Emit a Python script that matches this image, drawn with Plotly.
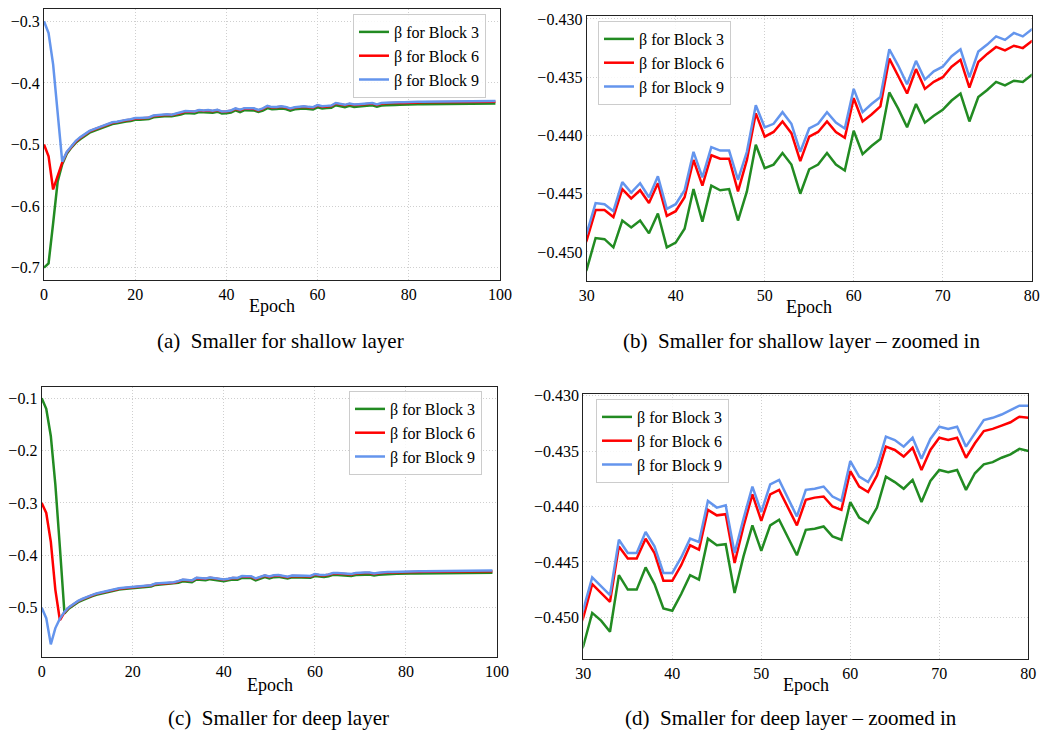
import plotly.graph_objects as go

# ---------------- data ----------------
epochs = list(range(100))

# Shallow-layer configuration (panels a, b)
shallow_block3 = [
    -0.700, -0.693, -0.628, -0.560, -0.532, -0.515, -0.505, -0.497, -0.491, -0.4857,
    -0.4807, -0.4777, -0.4747, -0.4717, -0.4697, -0.4667, -0.4657, -0.4637, -0.4627, -0.4617,
    -0.4597, -0.4597, -0.4587, -0.4587, -0.4557, -0.4547, -0.4537, -0.4537, -0.4542, -0.4531,
    -0.4515, -0.4488, -0.4489, -0.4496, -0.4473, -0.4479, -0.4473, -0.4484, -0.4467, -0.4496,
    -0.4492, -0.4480, -0.4446, -0.4474, -0.4443, -0.4447, -0.4446, -0.4473, -0.4448, -0.4408,
    -0.4428, -0.4425, -0.4415, -0.4425, -0.4450, -0.4429, -0.4425, -0.4415, -0.4425, -0.4430,
    -0.4396, -0.4416, -0.4409, -0.4403, -0.4363, -0.4377, -0.4393, -0.4373, -0.4389, -0.4383,
    -0.4378, -0.4370, -0.4364, -0.4388, -0.4367, -0.4361, -0.4354, -0.4357, -0.4353, -0.4354,
    -0.4348, -0.4347, -0.4346, -0.4345, -0.4345, -0.4343, -0.4342, -0.4341, -0.4341, -0.4340,
    -0.4339, -0.4338, -0.4338, -0.4337, -0.4336, -0.4336, -0.4335, -0.4335, -0.4334, -0.4334,
]
shallow_block6 = [
    -0.500, -0.519, -0.573, -0.550, -0.529, -0.513, -0.503, -0.495, -0.489, -0.4835,
    -0.4787, -0.4757, -0.4727, -0.4697, -0.4677, -0.4647, -0.4637, -0.4617, -0.4607, -0.4597,
    -0.4577, -0.4577, -0.4567, -0.4567, -0.4537, -0.4527, -0.4517, -0.4517, -0.4522, -0.4507,
    -0.4490, -0.4464, -0.4464, -0.4470, -0.4446, -0.4454, -0.4447, -0.4458, -0.4441, -0.4469,
    -0.4465, -0.4453, -0.4421, -0.4443, -0.4417, -0.4420, -0.4420, -0.4448, -0.4421, -0.4381,
    -0.4401, -0.4397, -0.4388, -0.4398, -0.4422, -0.4401, -0.4397, -0.4388, -0.4397, -0.4402,
    -0.4368, -0.4388, -0.4382, -0.4375, -0.4334, -0.4349, -0.4364, -0.4343, -0.4360, -0.4354,
    -0.4350, -0.4341, -0.4335, -0.4359, -0.4337, -0.4330, -0.4324, -0.4327, -0.4323, -0.4325,
    -0.4319, -0.4318, -0.4317, -0.4316, -0.4316, -0.4314, -0.4313, -0.4312, -0.4312, -0.4311,
    -0.4310, -0.4309, -0.4309, -0.4308, -0.4307, -0.4307, -0.4306, -0.4306, -0.4305, -0.4305,
]
shallow_block9 = [
    -0.300, -0.319, -0.370, -0.448, -0.528, -0.512, -0.502, -0.494, -0.488, -0.483,
    -0.478, -0.475, -0.472, -0.469, -0.467, -0.464, -0.463, -0.461, -0.460, -0.459,
    -0.457, -0.457, -0.456, -0.456, -0.453, -0.452, -0.451, -0.451, -0.4515, -0.450,
    -0.4484, -0.4458, -0.4459, -0.4465, -0.4440, -0.4449, -0.4441, -0.4453, -0.4435, -0.4463,
    -0.4459, -0.4447, -0.4414, -0.4436, -0.4410, -0.4413, -0.4413, -0.4438, -0.4414, -0.4374,
    -0.4393, -0.4390, -0.4380, -0.4390, -0.4414, -0.4394, -0.4390, -0.4380, -0.4389, -0.4394,
    -0.4360, -0.4380, -0.4373, -0.4367, -0.4326, -0.4340, -0.4356, -0.4336, -0.4352, -0.4345,
    -0.4341, -0.4332, -0.4326, -0.4350, -0.4328, -0.4322, -0.4315, -0.4318, -0.4312, -0.4315,
    -0.4309, -0.4308, -0.4307, -0.4306, -0.4306, -0.4304, -0.4303, -0.4302, -0.4302, -0.4301,
    -0.4300, -0.4299, -0.4299, -0.4298, -0.4297, -0.4297, -0.4296, -0.4296, -0.4295, -0.4295,
]

# Deep-layer configuration (panels c, d)
deep_block3 = [
    -0.100, -0.120, -0.172, -0.265, -0.385, -0.511, -0.5015, -0.4955, -0.4895, -0.4855,
    -0.4815, -0.4785, -0.4755, -0.4735, -0.4705, -0.4685, -0.4675, -0.4655, -0.4645, -0.4635,
    -0.4625, -0.4615, -0.4605, -0.4605, -0.4595, -0.4565, -0.4560, -0.4555, -0.4550, -0.4540,
    -0.4526, -0.4496, -0.4503, -0.4513, -0.4462, -0.4475, -0.4475, -0.4455, -0.4470, -0.4492,
    -0.4494, -0.4479, -0.4462, -0.4466, -0.4429, -0.4435, -0.4434, -0.4478, -0.4445, -0.4417,
    -0.4440, -0.4417, -0.4412, -0.4428, -0.4444, -0.4421, -0.4420, -0.4418, -0.4427, -0.4430,
    -0.4396, -0.4410, -0.4415, -0.4401, -0.4373, -0.4378, -0.4384, -0.4376, -0.4396, -0.4377,
    -0.4367, -0.4369, -0.4367, -0.4385, -0.4370, -0.4362, -0.4360, -0.4356, -0.4353, -0.4348,
    -0.4350, -0.4349, -0.4348, -0.4347, -0.4346, -0.4345, -0.4344, -0.4343, -0.4342, -0.4342,
    -0.4341, -0.4340, -0.4339, -0.4338, -0.4338, -0.4337, -0.4336, -0.4336, -0.4335, -0.4334,
]
deep_block6 = [
    -0.300, -0.319, -0.374, -0.466, -0.524, -0.509, -0.4997, -0.4937, -0.4877, -0.4837,
    -0.4797, -0.4767, -0.4737, -0.4717, -0.4687, -0.4667, -0.4657, -0.4637, -0.4627, -0.4617,
    -0.4607, -0.4597, -0.4587, -0.4587, -0.4577, -0.4547, -0.4542, -0.4537, -0.4532, -0.4522,
    -0.4500, -0.4470, -0.4478, -0.4486, -0.4436, -0.4447, -0.4447, -0.4429, -0.4442, -0.4467,
    -0.4467, -0.4453, -0.4435, -0.4439, -0.4403, -0.4408, -0.4407, -0.4451, -0.4418, -0.4389,
    -0.4413, -0.4389, -0.4385, -0.4401, -0.4417, -0.4394, -0.4392, -0.4391, -0.4400, -0.4403,
    -0.4368, -0.4382, -0.4387, -0.4372, -0.4346, -0.4349, -0.4355, -0.4347, -0.4367, -0.4349,
    -0.4338, -0.4340, -0.4338, -0.4356, -0.4343, -0.4332, -0.4330, -0.4327, -0.4324, -0.4319,
    -0.4320, -0.4319, -0.4318, -0.4317, -0.4316, -0.4315, -0.4314, -0.4313, -0.4312, -0.4311,
    -0.4310, -0.4309, -0.4309, -0.4308, -0.4307, -0.4307, -0.4306, -0.4305, -0.4305, -0.4304,
]
deep_block9 = [
    -0.500, -0.520, -0.570, -0.539, -0.521, -0.508, -0.499, -0.493, -0.487, -0.483,
    -0.479, -0.476, -0.473, -0.471, -0.468, -0.466, -0.465, -0.463, -0.462, -0.461,
    -0.460, -0.459, -0.458, -0.458, -0.457, -0.454, -0.4535, -0.453, -0.4525, -0.4515,
    -0.4493, -0.4464, -0.4472, -0.4480, -0.4430, -0.4442, -0.4442, -0.4423, -0.4436, -0.4460,
    -0.4460, -0.4446, -0.4429, -0.4432, -0.4395, -0.4401, -0.4399, -0.4442, -0.4411, -0.4382,
    -0.4405, -0.4380, -0.4376, -0.4393, -0.4409, -0.4385, -0.4384, -0.4382, -0.4391, -0.4395,
    -0.4359, -0.4373, -0.4378, -0.4364, -0.4337, -0.4340, -0.4346, -0.4338, -0.4357, -0.4339,
    -0.4328, -0.4330, -0.4328, -0.4346, -0.4334, -0.4322, -0.4320, -0.4317, -0.4313, -0.4309,
    -0.4309, -0.4308, -0.4307, -0.4306, -0.4305, -0.4304, -0.4303, -0.4302, -0.4301, -0.4300,
    -0.4299, -0.4298, -0.4298, -0.4297, -0.4296, -0.4296, -0.4295, -0.4294, -0.4293, -0.4292,
]

series_names = ["β for Block 3", "β for Block 6", "β for Block 9"]
captions = [
    "(a)  Smaller for shallow layer",
    "(b)  Smaller for shallow layer – zoomed in",
    "(c)  Smaller for deep layer",
    "(d)  Smaller for deep layer – zoomed in",
]
x_label = "Epoch"

# ---------------- styling ----------------
W, H = 1042, 732
FONT = "Liberation Serif, Times New Roman, Times, serif"
COLORS = ["#228b22", "#ff0000", "#6495ed"]


def fx(p):
    return p / W


def fy(p):
    return 1 - p / H


panels = [
    dict(data=[shallow_block3, shallow_block6, shallow_block9],
         xd=(44, 500), yd=(9, 280), xr=[0, 100], yr=[-0.72, -0.28],
         xdt=20, ydt=0.1, ytick0=-0.7, fmt=".1f", leg=(353, 14),
         lab=(272, 306), cap=(280, 341)),
    dict(data=[shallow_block3, shallow_block6, shallow_block9],
         xd=(586.7, 1031.7), yd=(15.7, 281), xr=[30, 80], yr=[-0.45249, -0.42972],
         xdt=10, ydt=0.005, ytick0=-0.45, fmt=".3f", leg=(598, 21),
         lab=(809, 307), cap=(801, 341)),
    dict(data=[deep_block3, deep_block6, deep_block9],
         xd=(41.7, 497), yd=(386.7, 656.7), xr=[0, 100], yr=[-0.5937, -0.0778],
         xdt=20, ydt=0.1, ytick0=-0.5, fmt=".1f", leg=(349, 391),
         lab=(270, 685), cap=(278, 718)),
    dict(data=[deep_block3, deep_block6, deep_block9],
         xd=(583.3, 1028.3), yd=(394, 659), xr=[30, 80], yr=[-0.45376, -0.42985],
         xdt=10, ydt=0.005, ytick0=-0.45, fmt=".3f", leg=(596, 399),
         lab=(806, 685), cap=(791, 718)),
]

fig = go.Figure()
layout = dict(
    width=W, height=H, autosize=False,
    margin=dict(l=0, r=0, t=0, b=0, pad=0, autoexpand=False),
    paper_bgcolor="white", plot_bgcolor="white",
    font=dict(family=FONT, size=16, color="black"),
    showlegend=True,
    annotations=[],
)

for i, p in enumerate(panels):
    n = "" if i == 0 else str(i + 1)
    xa, ya = "x" + n, "y" + n
    leg = "legend" + n
    for j in range(3):
        fig.add_trace(go.Scatter(
            x=epochs, y=p["data"][j], mode="lines", name=series_names[j],
            line=dict(color=COLORS[j], width=2.5),
            xaxis=xa, yaxis=ya, legend=leg,
        ))
    common = dict(
        showline=True, linecolor="#222222", linewidth=1.2, mirror=True,
        showgrid=True, gridcolor="#cfcfcf", gridwidth=1, griddash="1px,2px",
        zeroline=False, ticks="", automargin=False,
        tickfont=dict(family=FONT, size=16, color="black"),
    )
    layout["xaxis" + n] = dict(
        common, domain=[fx(p["xd"][0]), fx(p["xd"][1])], range=p["xr"],
        dtick=p["xdt"], tick0=0, anchor=ya,
    )
    layout["yaxis" + n] = dict(
        common, domain=[fy(p["yd"][1]), fy(p["yd"][0])], range=p["yr"],
        dtick=p["ydt"], tick0=p["ytick0"], tickformat=p["fmt"], anchor=xa,
    )
    layout[leg] = dict(
        x=fx(p["leg"][0]), y=fy(p["leg"][1]), xanchor="left", yanchor="top",
        xref="paper", yref="paper",
        bgcolor="rgba(255,255,255,0.85)", bordercolor="#cccccc", borderwidth=1,
        font=dict(family=FONT, size=16, color="black"),
    )
    layout["annotations"].append(dict(
        text=x_label, x=fx(p["lab"][0]), y=fy(p["lab"][1]), xref="paper", yref="paper",
        xanchor="center", yanchor="middle", showarrow=False,
        font=dict(family=FONT, size=18, color="black"),
    ))
    layout["annotations"].append(dict(
        text=captions[i], x=fx(p["cap"][0]), y=fy(p["cap"][1]), xref="paper", yref="paper",
        xanchor="center", yanchor="middle", showarrow=False,
        font=dict(family=FONT, size=21, color="black"),
    ))

fig.update_layout(**layout)
fig.write_html(
    "out.html",
    config={"responsive": False, "displayModeBar": False},
    post_script="document.body.style.margin='0';document.body.style.overflow='hidden';",
)
